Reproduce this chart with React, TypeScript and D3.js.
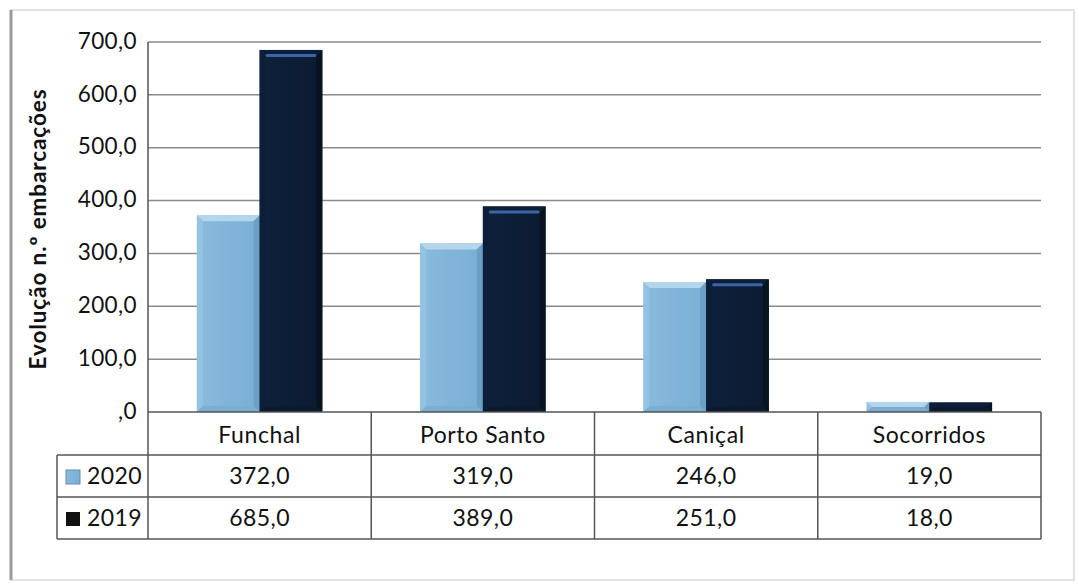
import React from "react";
import * as d3 from "d3";

const categories = ["Funchal", "Porto Santo", "Caniçal", "Socorridos"];
const seriesNames = ["2020", "2019"];
const values2020 = [372, 319, 246, 19];
const values2019 = [685, 389, 251, 18];
const yTicks = [0, 100, 200, 300, 400, 500, 600, 700];
const yTitle = "Evolução n.º embarcações";

const W = 1079;
const H = 584;
const plot = { left: 148, right: 1041, top: 42, bottom: 412 };
const tableRows = [412, 455, 497, 539];
const tableLeft = 57;
const FONT = "Lato, 'Open Sans', sans-serif";

const fmt = (v: number) => {
  const s = v.toFixed(1).replace(".", ",");
  return s.startsWith("0,") ? s.slice(1) : s;
};

export default function App() {
  const x = d3.scaleBand<string>().domain(categories).range([plot.left, plot.right]).paddingInner(0).paddingOuter(0);
  const inner = d3.scaleBand<string>().domain(seriesNames).range([0, x.bandwidth()]).paddingOuter(0.78).paddingInner(0);
  const y = d3.scaleLinear().domain([0, 700]).range([plot.bottom, plot.top]);
  const series = [values2020, values2019];

  const bars: React.ReactNode[] = [];
  categories.forEach((c, ci) => {
    seriesNames.forEach((s, si) => {
      const v = series[si][ci];
      const bx = (x(c) as number) + (inner(s) as number);
      const bw = inner.bandwidth();
      const by = y(v);
      const bh = plot.bottom - by;
      const b = Math.min(6, bh / 2);
      const light = si === 0;
      const base = light ? "url(#gLight)" : "url(#gDark)";
      const topC = light ? "#b3d6ec" : "#0d1f38";
      const leftC = light ? "#94c2e2" : "#0d1f38";
      const rightC = light ? "#6a9fc6" : "#08131f";
      const botC = light ? "#7aadd2" : "#0b1a2e";
      bars.push(
        <g key={c + s}>
          <rect x={bx} y={by} width={bw} height={bh} fill={base} />
          <polygon points={`${bx},${by} ${bx + bw},${by} ${bx + bw - b},${by + b} ${bx + b},${by + b}`} fill={topC} />
          <polygon points={`${bx},${by} ${bx + b},${by + b} ${bx + b},${by + bh - b} ${bx},${by + bh}`} fill={leftC} />
          <polygon points={`${bx + bw},${by} ${bx + bw - b},${by + b} ${bx + bw - b},${by + bh - b} ${bx + bw},${by + bh}`} fill={rightC} />
          <polygon points={`${bx},${by + bh} ${bx + b},${by + bh - b} ${bx + bw - b},${by + bh - b} ${bx + bw},${by + bh}`} fill={botC} />
          {!light && bh > 12 && (
            <rect x={bx + b} y={by + b - 2} width={bw - 2 * b} height={3} fill="#3a66a6" rx={1.5} />
          )}
        </g>
      );
    });
  });

  const lineC = "#555";
  const catEdges = [...categories.map((c) => x(c) as number), plot.right];

  return (
    <svg width={W} height={H} style={{ position: "absolute", left: 0, top: 0, background: "#fff" }}>
      <defs>
        <linearGradient id="gLight" x1="0" x2="1" y1="0" y2="0">
          <stop offset="0" stopColor="#88bbdd" />
          <stop offset="1" stopColor="#7aaed3" />
        </linearGradient>
        <linearGradient id="gDark" x1="0" x2="1" y1="0" y2="0">
          <stop offset="0" stopColor="#0e213c" />
          <stop offset="1" stopColor="#0b1b31" />
        </linearGradient>
      </defs>
      {/* frame */}
      <rect x={11} y={10} width={1063} height={570} fill="none" stroke="#e2e2e2" strokeWidth={2} />
      <line x1={11} x2={11} y1={10} y2={580} stroke="#9a9a9a" strokeWidth={3} />

      {/* gridlines */}
      {yTicks.filter((t) => t > 0).map((t) => (
        <line key={t} x1={plot.left} x2={plot.right} y1={y(t)} y2={y(t)} stroke="#8a8a8a" strokeWidth={1.5} />
      ))}
      {/* tick labels */}
      {yTicks.map((t) => (
        <text key={"l" + t} x={137} y={y(t)} dy="0.3em" textAnchor="end" fontFamily={FONT} fontSize={22.5} letterSpacing={0.4} fill="#111">
          {fmt(t)}
        </text>
      ))}
      <text
        transform={`translate(46,${(plot.top + plot.bottom) / 2 + 2}) rotate(-90)`}
        textAnchor="middle"
        fontFamily={FONT}
        fontWeight="bold"
        fontSize={22.5}
        letterSpacing={0.9}
        fill="#111"
      >
        {yTitle}
      </text>

      {bars}

      {/* table */}
      <line x1={plot.left} x2={plot.left} y1={plot.top} y2={tableRows[3]} stroke={lineC} strokeWidth={1.5} />
      <line x1={plot.left} x2={plot.right} y1={tableRows[0]} y2={tableRows[0]} stroke={lineC} strokeWidth={1.5} />
      {tableRows.slice(1).map((r) => (
        <line key={r} x1={tableLeft} x2={plot.right} y1={r} y2={r} stroke={lineC} strokeWidth={1.5} />
      ))}
      <line x1={tableLeft} x2={tableLeft} y1={tableRows[1]} y2={tableRows[3]} stroke={lineC} strokeWidth={1.5} />
      {catEdges.slice(1).map((e, i) => (
        <line key={"v" + i} x1={e} x2={e} y1={tableRows[0]} y2={tableRows[3]} stroke={lineC} strokeWidth={1.5} />
      ))}
      {categories.map((c) => (
        <text key={"c" + c} x={(x(c) as number) + x.bandwidth() / 2} y={(tableRows[0] + tableRows[1]) / 2 + 1} dy="0.36em" textAnchor="middle" fontFamily={FONT} fontSize={23} letterSpacing={0.6} fill="#111">
          {c}
        </text>
      ))}
      {seriesNames.map((s, si) => {
        const cy = (tableRows[si + 1] + tableRows[si + 2]) / 2;
        return (
          <g key={"r" + s}>
            <rect x={66} y={cy - 6} width={14} height={14} fill={si === 0 ? "url(#gLight)" : "#111"} stroke={si === 0 ? "#5e8fb5" : "none"} />
            <text x={87} y={cy} dy="0.36em" fontFamily={FONT} fontSize={23} letterSpacing={0.4} fill="#111">
              {s}
            </text>
            {categories.map((c, ci) => (
              <text key={c} x={(x(c) as number) + x.bandwidth() / 2} y={cy} dy="0.36em" textAnchor="middle" fontFamily={FONT} fontSize={23} letterSpacing={0.4} fill="#111">
                {fmt(series[si][ci])}
              </text>
            ))}
          </g>
        );
      })}
    </svg>
  );
}
